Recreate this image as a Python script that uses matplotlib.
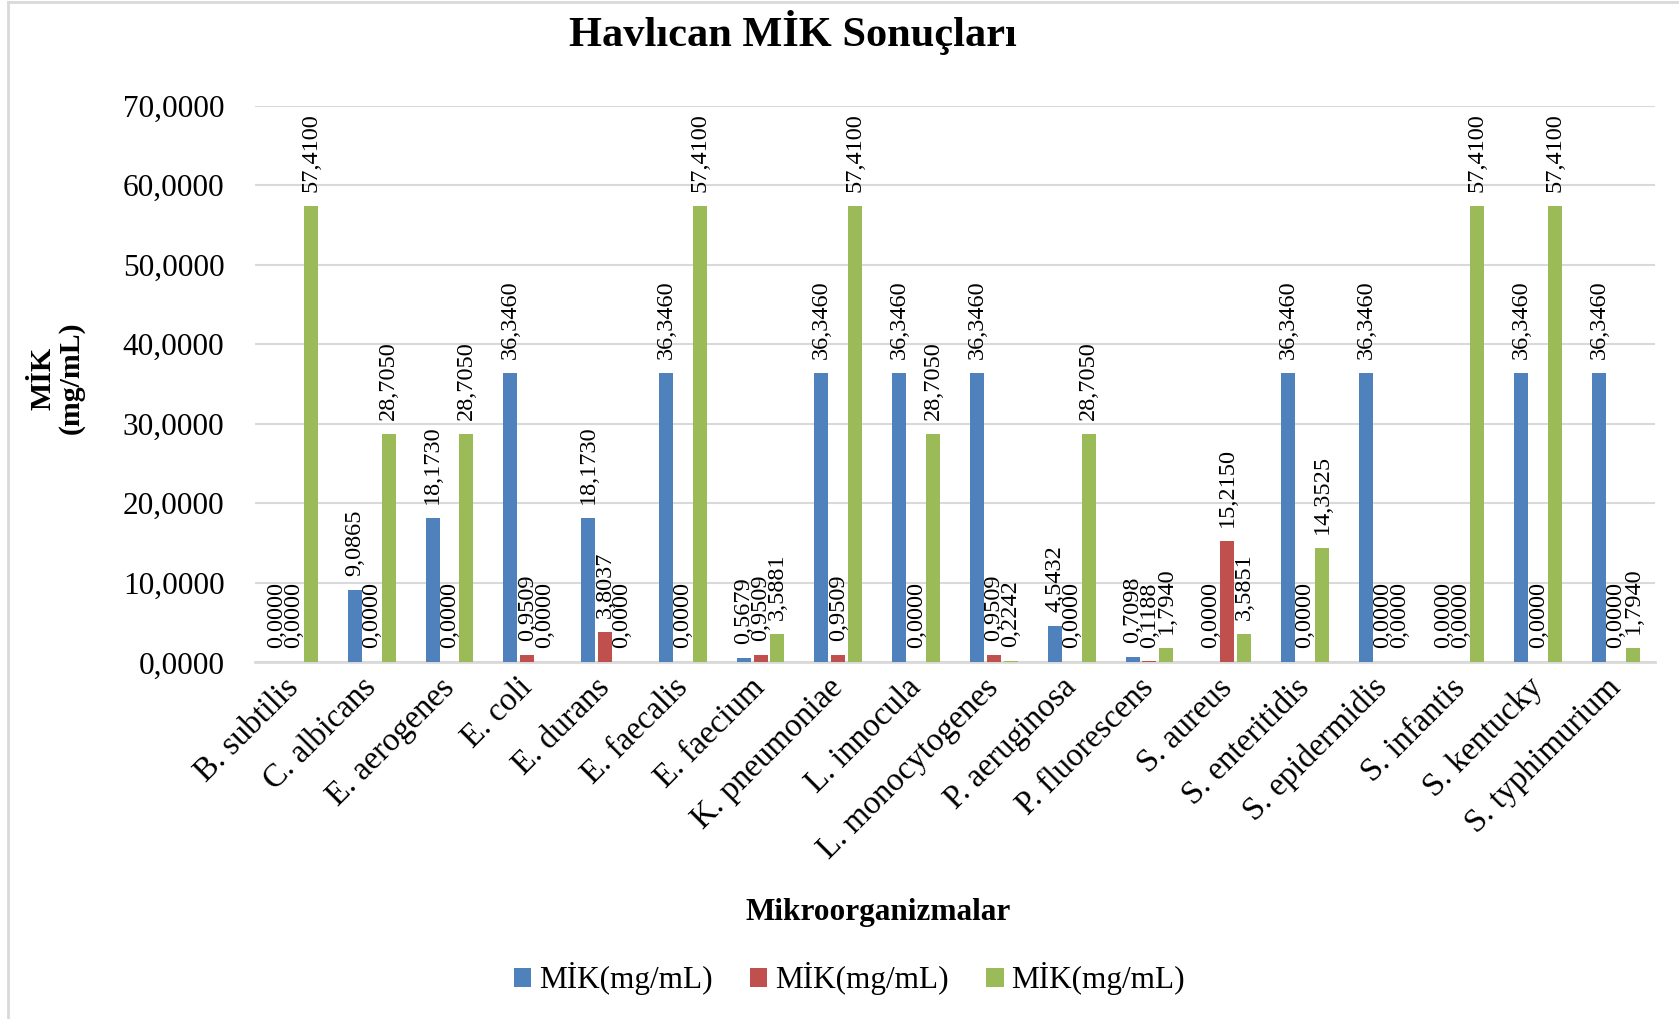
import matplotlib
matplotlib.use("Agg")
import matplotlib.pyplot as plt
import numpy as np
from matplotlib.lines import Line2D
from matplotlib.patches import Patch
from matplotlib.ticker import FuncFormatter, MultipleLocator

plt.rcParams["font.family"] = ["Liberation Serif", "DejaVu Serif"]

ORGANISMS = [
    "B. subtilis", "C. albicans", "E. aerogenes", "E. coli", "E. durans",
    "E. faecalis", "E. faecium", "K. pneumoniae", "L. innocula",
    "L. monocytogenes", "P. aeruginosa", "P. fluorescens", "S. aureus",
    "S. enteritidis", "S. epidermidis", "S. infantis", "S. kentucky",
    "S. typhimurium",
]
MIK_BLUE = [0.0, 9.0865, 18.173, 36.346, 18.173, 36.346, 0.5679, 36.346, 36.346,
            36.346, 4.5432, 0.7098, 0.0, 36.346, 36.346, 0.0, 36.346, 36.346]
MIK_RED = [0.0, 0.0, 0.0, 0.9509, 3.8037, 0.0, 0.9509, 0.9509, 0.0,
           0.9509, 0.0, 0.1188, 15.215, 0.0, 0.0, 0.0, 0.0, 0.0]
MIK_GREEN = [57.41, 28.705, 28.705, 0.0, 0.0, 57.41, 3.5881, 57.41, 28.705,
             0.2242, 28.705, 1.794, 3.5851, 14.3525, 0.0, 57.41, 57.41, 1.794]
SERIES_LABELS = ["MİK(mg/mL)", "MİK(mg/mL)", "MİK(mg/mL)"]
COLORS = ["#4F81BD", "#C0504D", "#9BBB59"]
GRID = "#D9D9D9"


def comma(v, _pos=None):
    return f"{v:.4f}".replace(".", ",")


fig = plt.figure(figsize=(16.79, 10.19), dpi=100)
ax = fig.add_axes([0.1519, 0.350, 0.8338, 0.5463])

x = np.arange(len(ORGANISMS))
step = 0.217
width = 0.18
for i, (vals, color) in enumerate(zip([MIK_BLUE, MIK_RED, MIK_GREEN], COLORS)):
    bars = ax.bar(x + (i - 1) * step, vals, width=width, color=color, zorder=3)
    ax.bar_label(bars, labels=[comma(v) for v in vals], padding=10,
                 rotation=90, fontsize=17.5)

ax.set_xlim(-0.5, len(ORGANISMS) - 0.5)
ax.set_ylim(0, 70)
ax.yaxis.set_major_locator(MultipleLocator(10))
ax.yaxis.set_major_formatter(FuncFormatter(comma))
ax.grid(axis="y", color=GRID, linewidth=1.5, zorder=0)
for side in ["top", "right", "left"]:
    ax.spines[side].set_visible(False)
ax.spines["bottom"].set_color(GRID)
ax.spines["bottom"].set_linewidth(2)
ax.tick_params(axis="both", length=0, labelsize=22.5)
ax.tick_params(axis="y", pad=22)
ax.set_xticks(x)
ax.set_xticklabels(ORGANISMS, rotation=45, ha="right", rotation_mode="anchor",
                   va="center", fontsize=23.5)
ax.tick_params(axis="x", pad=15)

fig.text(0.472, 0.968, "Havlıcan MİK Sonuçları", ha="center", va="center",
         fontsize=30.5, fontweight="bold")
fig.text(0.523, 0.105, "Mikroorganizmalar", ha="center", va="center",
         fontsize=22.5, fontweight="bold")
fig.text(0.034, 0.629, "MİK\n(mg/mL)", ha="center", va="center", rotation=90,
         fontsize=21.5, fontweight="bold", linespacing=1.0)

handles = [Patch(facecolor=c, edgecolor="none") for c in COLORS]
fig.legend(handles, SERIES_LABELS, loc="center", bbox_to_anchor=(0.506, 0.0395),
           ncol=3, frameon=False, fontsize=22.5, handlelength=0.55,
           handleheight=0.55, handletextpad=0.25, columnspacing=1.2)

fig.add_artist(Line2D([0.005, 0.005], [0, 0.998], color=GRID, linewidth=2,
                      transform=fig.transFigure))
fig.add_artist(Line2D([0.005, 1.0], [0.998, 0.998], color=GRID, linewidth=2,
                      transform=fig.transFigure))

fig.savefig("out.png", dpi=100)
